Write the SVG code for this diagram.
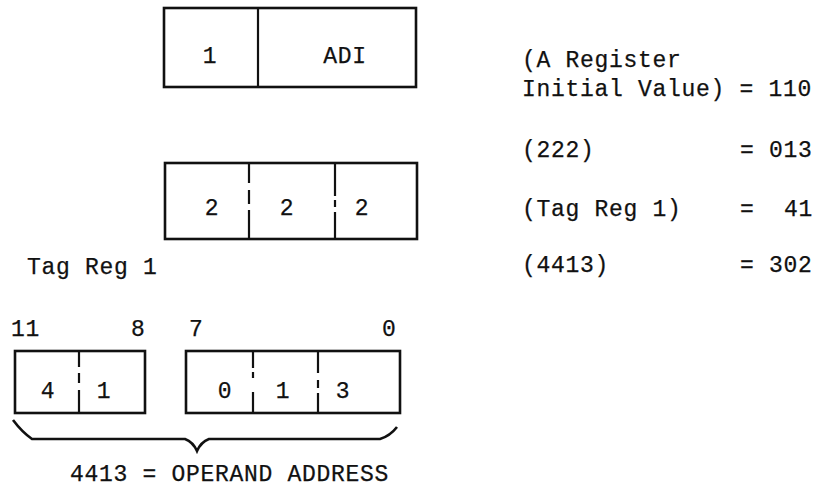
<svg xmlns="http://www.w3.org/2000/svg" width="822" height="489" viewBox="0 0 822 489">
<style>
.t{font-family:"Liberation Mono","DejaVu Sans Mono",monospace;font-size:23px;letter-spacing:0.7px;fill:#111;stroke:#111;stroke-width:0.25}
.c{text-anchor:middle}
.box{fill:none;stroke:#111;stroke-width:2.6}
.div{fill:none;stroke:#111;stroke-width:2.2}
</style>
<rect width="822" height="489" fill="#fff"/>
<g id="instr-word">
<rect class="box" x="164" y="8" width="252" height="79"/>
<line class="div" x1="258" y1="8" x2="258" y2="87"/>
<text class="t c" x="210" y="63">1</text>
<text class="t c" x="345" y="63">ADI</text>
</g>
<g id="addr-222">
<rect class="box" x="165" y="163" width="252" height="76"/>
<path class="div" d="M249 163V183M249 190V204M249 210V239M335 163V196M335 200V207M335 212V239"/>
<text class="t c" x="212" y="215">2</text>
<text class="t c" x="287" y="215">2</text>
<text class="t c" x="362" y="215">2</text>
</g>
<g id="tag-reg-label">
<text class="t" x="27" y="274">Tag Reg 1</text>
</g>
<g id="bit-labels">
<text class="t" x="11" y="336">11</text>
<text class="t" x="131" y="336">8</text>
<text class="t" x="189" y="336">7</text>
<text class="t" x="382" y="336">0</text>
</g>
<g id="tag-reg-box">
<rect class="box" x="15" y="351" width="130" height="62"/>
<path class="div" d="M79 351V367M79 373V383M79 390V413"/>
<text class="t c" x="48" y="398">4</text>
<text class="t c" x="104" y="398">1</text>
</g>
<g id="low-box">
<rect class="box" x="186" y="351" width="214" height="62"/>
<path class="div" d="M253 351V368M253 372V378M253 392V413M318 351V373M318 380V388M318 393V413"/>
<text class="t c" x="225" y="398">0</text>
<text class="t c" x="283" y="398">1</text>
<text class="t c" x="343" y="398">3</text>
</g>
<g id="connectors">
<path d="M13 420 Q22 432 32 439 H185 Q193 442 197 451 Q201 442 209 439 H380 Q390 436 397 427" fill="none" stroke="#111" stroke-width="2.6"/>
</g>
<g id="operand-label">
<text class="t" x="70" y="481">4413 = OPERAND ADDRESS</text>
</g>
<g id="values">
<text class="t" x="522" y="67">(A Register</text>
<text class="t" x="522" y="96">Initial Value) = 110</text>
<text class="t" x="522" y="157">(222)</text>
<text class="t" x="740" y="157">= 013</text>
<text class="t" x="522" y="216">(Tag Reg 1)</text>
<text class="t" x="740" y="216">=</text>
<text class="t" x="784" y="216">41</text>
<text class="t" x="522" y="272">(4413)</text>
<text class="t" x="740" y="272">= 302</text>
</g>
</svg>
